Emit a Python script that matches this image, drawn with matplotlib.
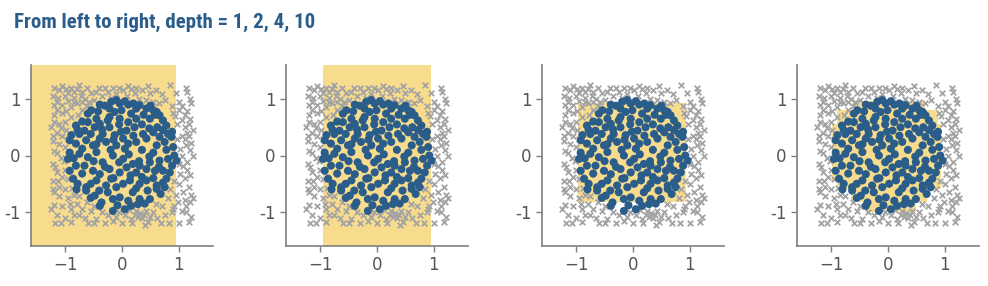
import matplotlib
matplotlib.use("Agg")
import matplotlib.pyplot as plt
from matplotlib import font_manager
from matplotlib.patches import Rectangle
import numpy as np

# points inside the circle (class 1)
inner = [
    (-0.39, 0.90), (-0.19, 0.95), (-0.10, 0.98), (-0.04, 0.92), (0.05, 0.96), (0.11, 0.90),
    (0.31, 0.89), (0.43, 0.83), (0.55, 0.80),
    (-0.60, 0.74), (-0.54, 0.80), (-0.22, 0.83), (-0.13, 0.77), (-0.01, 0.80), (0.16, 0.74),
    (0.25, 0.83), (0.61, 0.77), (0.66, 0.71),
    (-0.81, 0.53), (-0.60, 0.59), (-0.45, 0.65), (-0.39, 0.56), (-0.22, 0.68), (-0.04, 0.65),
    (0.11, 0.59), (0.25, 0.65), (0.49, 0.65), (0.72, 0.62), (0.78, 0.53),
    (-0.89, 0.36), (-0.75, 0.38), (-0.66, 0.44), (-0.48, 0.50), (-0.34, 0.38), (-0.22, 0.50),
    (-0.13, 0.36), (0.08, 0.44), (0.22, 0.50), (0.37, 0.38), (0.55, 0.41), (0.66, 0.33), (0.81, 0.38),
    (-0.92, 0.27), (-0.81, 0.21), (-0.63, 0.27), (-0.51, 0.18), (-0.39, 0.30), (-0.28, 0.24),
    (-0.10, 0.18), (0.02, 0.30), (0.11, 0.21), (0.25, 0.24), (0.43, 0.30), (0.61, 0.18),
    (0.75, 0.24), (0.87, 0.33), (0.90, 0.15),
    (-0.95, -0.06), (-0.75, 0.03), (-0.60, -0.03), (-0.45, 0.06), (-0.34, -0.12), (-0.16, 0.0),
    (0.02, -0.06), (0.19, -0.15), (0.31, -0.18), (0.49, -0.12), (0.66, -0.09), (0.81, -0.06), (0.96, -0.09),
    (-0.92, -0.27), (-0.81, -0.18), (-0.66, -0.18), (-0.51, -0.27), (-0.39, -0.33), (-0.22, -0.24),
    (-0.04, -0.30), (0.08, -0.21), (0.25, -0.30), (0.43, -0.24), (0.58, -0.27), (0.72, -0.27), (0.84, -0.30),
    (-0.86, -0.41), (-0.78, -0.50), (-0.63, -0.56), (-0.45, -0.44), (-0.28, -0.53), (-0.19, -0.41),
    (-0.10, -0.56), (0.14, -0.44), (0.31, -0.50), (0.43, -0.44), (0.61, -0.53), (0.75, -0.56), (0.78, -0.41),
    (-0.63, -0.62), (-0.48, -0.71), (-0.36, -0.83), (-0.25, -0.65), (-0.16, -0.77), (-0.04, -0.74),
    (0.11, -0.80), (0.19, -0.65), (0.31, -0.77), (0.49, -0.77), (0.61, -0.59),
    (-0.39, -0.89), (-0.16, -0.98), (0.05, -0.95), (0.16, -0.89), (0.28, -0.86),
    (-0.30, 0.88), (0.20, 0.92), (0.38, 0.72), (-0.42, 0.78), (-0.70, 0.60), (-0.05, 0.55),
    (0.35, 0.55), (0.62, 0.50), (-0.55, 0.38), (-0.02, 0.42), (0.20, 0.35), (0.48, 0.48),
    (0.72, 0.45), (-0.70, 0.12), (-0.45, 0.20), (-0.20, 0.10), (0.35, 0.10), (0.55, 0.05),
    (0.78, 0.10), (-0.85, -0.05), (-0.50, -0.10), (-0.05, -0.12), (0.12, 0.02), (0.65, -0.20),
    (0.88, -0.18), (-0.70, -0.32), (-0.30, -0.20), (0.15, -0.35), (0.35, -0.38), (0.55, -0.40),
    (-0.55, -0.50), (-0.40, -0.62), (0.02, -0.50), (0.25, -0.58), (0.45, -0.62), (0.68, -0.68),
    (-0.55, -0.75), (-0.08, -0.88), (0.40, -0.85), (-0.25, 0.62), (0.50, 0.88), (-0.78, 0.45),
    (0.88, 0.42), (-0.92, 0.05), (0.92, 0.0), (-0.15, -0.40), (0.05, 0.12), (0.48, -0.02),
    (-0.35, 0.46), (0.30, -0.10), (0.72, -0.48), (-0.80, -0.60), (0.58, 0.72), (-0.15, 0.28),
]

# points outside the circle (class 0)
outer = [
    # top band
    (-1.2, 1.2), (-1.1, 1.15), (-1.05, 1.22), (-0.95, 1.1), (-0.9, 1.2), (-0.8, 1.18), (-0.75, 1.25),
    (-0.7, 1.12), (-0.62, 1.2), (-0.55, 1.1), (-1.15, 0.95), (-1.05, 0.9), (-0.95, 0.97), (-0.85, 1.02),
    (-0.8, 0.92), (-0.7, 0.95), (-0.62, 0.88), (-0.5, 0.98), (-0.45, 1.12), (-0.35, 1.05), (-0.3, 1.2),
    (-0.25, 1.13), (-0.15, 1.2), (-0.1, 1.08), (-0.05, 1.2), (0.02, 1.15), (0.08, 1.05), (0.15, 1.18),
    (0.22, 1.1), (0.3, 1.0), (0.35, 1.15), (0.42, 0.98), (0.5, 1.1), (0.6, 1.15), (0.65, 0.92),
    (0.75, 0.98), (0.85, 1.25), (0.88, 0.88), (-1.0, 1.05), (-1.2, 0.9), (-0.9, 0.85), (-0.58, 0.95),
    # right side
    (1.12, 1.2), (1.15, 1.12), (1.2, 1.0), (1.22, 0.92), (1.05, 0.88), (1.0, 0.8), (1.2, 0.65),
    (1.06, 0.62), (0.93, 0.7), (0.96, 0.55), (1.1, 0.5), (1.05, 0.35), (1.18, 0.34), (1.22, 0.22),
    (1.12, 0.18), (1.02, 0.12), (1.05, 0.0), (1.0, -0.15), (1.15, -0.25), (1.1, -0.4), (1.0, -0.5),
    (1.18, -0.55), (1.22, -0.7), (1.2, -0.82), (1.12, -0.9), (1.05, -0.98), (1.22, -1.08), (1.0, -1.2),
    (1.12, -1.0), (1.25, -0.75), (0.95, -0.7), (0.98, -0.82), (0.85, -0.6), (0.92, -0.45), (1.08, -0.65),
    (1.15, -0.12), (0.97, 0.3), (1.24, 0.45), (1.15, 0.78), (0.9, 0.75),
    # left side
    (-1.2, 0.6), (-1.1, 0.55), (-1.0, 0.6), (-1.15, 0.4), (-1.05, 0.35), (-1.22, 0.25), (-1.1, 0.2),
    (-1.0, 0.15), (-1.2, 0.08), (-1.08, -0.05), (-1.22, -0.15), (-1.0, -0.25), (-1.15, -0.3), (-1.05, -0.38),
    (-1.22, -0.45), (-0.95, -0.42), (-1.1, -0.55), (-1.0, -0.6), (-1.2, -0.65), (-0.88, -0.58), (-0.85, -0.7),
    (-0.95, -0.75), (-1.1, -0.72), (-1.2, -0.88), (-1.05, -0.9), (-0.9, -0.95), (-1.15, -1.05), (-1.25, -0.95),
    (-0.8, -0.85), (-0.75, -0.72), (-0.98, 0.45), (-1.25, 0.5), (-0.95, 0.3), (-1.18, -0.2), (-0.9, 0.68),
    (-1.05, 0.75), (-1.15, 0.8), (-0.78, 0.72), (-0.7, 0.8),
    # bottom band
    (-1.18, -1.2), (-1.0, -1.1), (-0.9, -1.18), (-0.75, -1.05), (-0.7, -0.95), (-0.6, -1.2), (-0.55, -0.98),
    (-0.45, -1.12), (-0.4, -0.9), (-0.3, -1.2), (-0.25, -1.05), (-0.15, -1.15), (0.0, -1.2), (0.05, -1.05),
    (0.12, -0.97), (0.15, -1.12), (0.22, -1.05), (0.28, -1.08), (0.32, -1.02), (0.35, -1.1), (0.38, -1.05),
    (0.42, -0.98), (0.45, -1.18), (0.55, -1.0), (0.62, -1.1), (0.7, -0.9), (0.75, -1.05), (0.82, -1.2),
    (0.88, -1.0), (0.6, -0.85), (0.8, -0.75), (-0.62, -0.82), (-0.5, -0.9), (0.25, -0.98), (-0.05, -1.0),
    # extra scattered
    (-1.22, 1.05), (-1.12, 1.02), (-0.98, 1.18), (-0.85, 1.12), (-0.72, 1.05), (-0.65, 1.0), (-0.4, 1.2),
    (-0.2, 1.02), (0.1, 1.22), (0.25, 1.2), (0.45, 1.22), (0.55, 0.95), (0.7, 1.08), (0.95, 1.1),
    (1.0, 0.95), (1.1, 0.72), (1.18, 0.55), (1.1, 0.3), (1.2, 0.1), (1.08, -0.18), (1.2, -0.35),
    (1.02, -0.32), (1.1, -0.78), (0.92, -0.9), (1.18, -1.18), (0.68, -1.2), (0.5, -1.08), (0.18, -1.2),
    (-0.1, -1.08), (-0.35, -1.0), (-0.65, -1.1), (-0.85, -1.05), (-1.08, -1.2), (-1.22, -0.6), (-1.12, -0.45),
    (-1.02, -0.1), (-1.15, 0.05), (-1.22, 0.35), (-1.08, 0.48), (-0.98, 0.78), (-1.2, 0.72), (-0.85, 0.95),
    (1.25, 0.0), (1.15, 0.4), (0.9, -0.95), (0.4, -1.22), (-0.5, -1.2), (-0.92, -0.85),
]

depths = [1, 2, 4, 10]

# decision regions predicted as "inside" for each depth: (x0, x1, y0, y1)
regions = [
    [(-1.7, 0.95, -1.7, 1.7)],
    [(-0.95, 0.95, -1.7, 1.7)],
    [(-0.96, 0.94, -0.83, 0.93)],
    [(-0.98, 0.93, -0.45, 0.55), (-0.9, 0.88, 0.55, 0.8), (-0.6, 0.65, 0.8, 0.97),
     (-0.9, 0.93, -0.6, -0.45), (-0.65, 0.69, -0.82, -0.6), (-0.4, 0.5, -1.0, -0.82)],
]

ticks = [-1, 0, 1]

BLUE = "#2b5d8b"
GRAY = "#a3a3a3"
YELLOW = "#f8dc8e"
AXIS = "#7f7f7f"

inner = np.array(inner)
outer = np.array(outer)

# pick a condensed face for the title if one is installed
installed = {f.name for f in font_manager.fontManager.ttflist}
narrow = [n for n in ["Liberation Sans Narrow", "DejaVu Sans Condensed", "Roboto Condensed",
                      "Open Sans Condensed", "Noto Sans Condensed"] if n in installed]

fig = plt.figure(figsize=(9.88, 2.86), dpi=100)

title = "From left to right, depth = " + ", ".join(str(d) for d in depths)
if narrow:
    t = fig.text(14 / 988, 1 - 22 / 286, title, family=narrow[0], fontweight="bold",
                 fontsize=15, color=BLUE, va="center", ha="left")
else:
    t = fig.text(14 / 988, 1 - 22 / 286, title, family="DejaVu Sans", fontweight="bold",
                 fontsize=12, color=BLUE, va="center", ha="left")
    t.set_fontstretch("condensed")

lefts = [31, 286, 542, 797]
for i, left in enumerate(lefts):
    ax = fig.add_axes([left / 988, 40 / 286, 182 / 988, 181 / 286])
    for (x0, x1, y0, y1) in regions[i]:
        ax.add_patch(Rectangle((x0, y0), x1 - x0, y1 - y0, facecolor=YELLOW,
                               edgecolor="none", zorder=0))
    ax.scatter(outer[:, 0], outer[:, 1], marker="x", s=16, color=GRAY, linewidths=1.3, zorder=2)
    ax.scatter(inner[:, 0], inner[:, 1], marker="o", s=34, color=BLUE, edgecolors="none", zorder=3)
    ax.set_xlim(-1.6, 1.6)
    ax.set_ylim(-1.6, 1.6)
    ax.set_xticks(ticks)
    ax.set_yticks(ticks)
    ax.set_xticklabels(["\u22121", "0", "1"])
    ax.set_yticklabels(["-1", "0", "1"])
    for s in ["top", "right"]:
        ax.spines[s].set_visible(False)
    for s in ["left", "bottom"]:
        ax.spines[s].set_color(AXIS)
        ax.spines[s].set_linewidth(1.2)
    ax.tick_params(colors=AXIS, labelcolor="#555555", labelsize=12, length=4, width=1)

fig.savefig("out.png", dpi=100)
